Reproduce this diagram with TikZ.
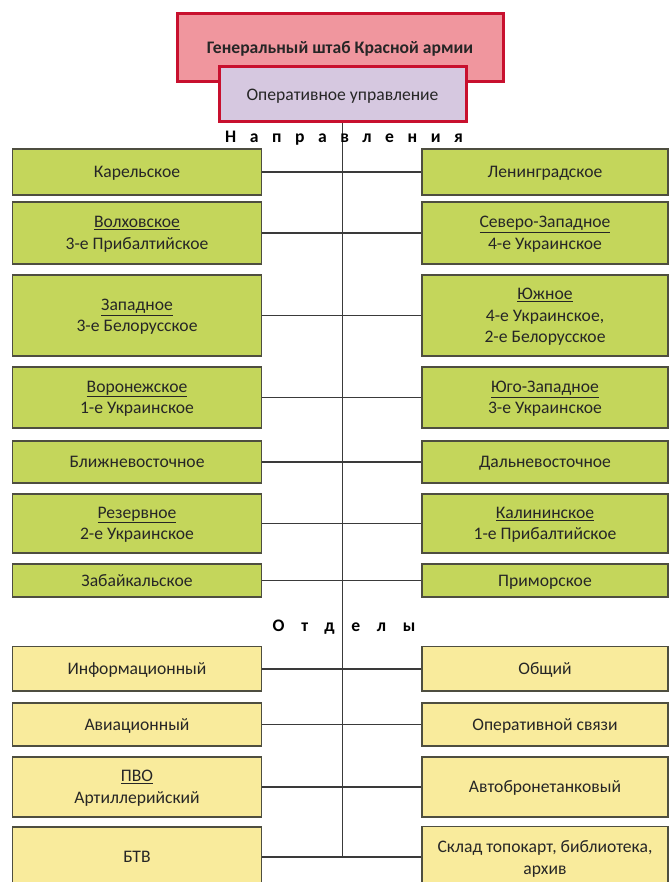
\documentclass[tikz,border=0pt]{standalone}
\usepackage{fontspec}
\setmainfont{Carlito}
\definecolor{gsred}{HTML}{C8102E}
\definecolor{gsfill}{HTML}{F0969E}
\definecolor{opfill}{HTML}{D6C8E0}
\definecolor{dirgreen}{HTML}{C4D65B}
\definecolor{deptyellow}{HTML}{F9EB9C}
\definecolor{boxline}{HTML}{4E4E40}
\definecolor{linkgray}{HTML}{3A3A3A}

\begin{document}
\begin{tikzpicture}[x=1pt, y=-1pt,
    every node/.style={font=\fontsize{17.6}{21.5}\selectfont, text=black!85, text depth=0pt},
    hq/.style={draw=gsred, line width=3pt, inner sep=0pt},
    dirbox/.style={draw=boxline, line width=1.8pt, fill=dirgreen, inner sep=0pt, align=center},
    deptbox/.style={draw=boxline, line width=1.8pt, fill=deptyellow, inner sep=0pt, align=center},
    lcol/.style={minimum width=249pt},
    rcol/.style={minimum width=246pt},
    hdr/.style={font=\fontsize{17.6}{21.5}\selectfont\bfseries\addfontfeature{LetterSpace=#1}, text=black},
    link/.style={draw=linkgray, line width=1.5pt}]
  \useasboundingbox (0, 0) rectangle (669, 882);

  \node[hq, fill=gsfill, minimum width=326pt, minimum height=68pt, font=\fontsize{17.6}{21.5}\selectfont\bfseries] (gs) at (340, 47.5) {Генеральный штаб Красной армии};
  \node[hq, fill=opfill, minimum width=247pt, minimum height=55pt] (op) at (342.5, 94.5) {Оперативное управление};

  \node[dirbox, lcol, minimum height=46pt] (l1) at (137, 172) {Карельское};
  \node[dirbox, lcol, minimum height=62pt] (l2) at (137, 233) {\underline{Волховское}\\3-е Прибалтийское};
  \node[dirbox, lcol, minimum height=81pt] (l3) at (137, 315.5) {\underline{Западное}\\3-е Белорусское};
  \node[dirbox, lcol, minimum height=61pt] (l4) at (137, 397.5) {\underline{Воронежское}\\1-е Украинское};
  \node[dirbox, lcol, minimum height=42pt] (l5) at (137, 462) {Ближневосточное};
  \node[dirbox, lcol, minimum height=59pt] (l6) at (137, 523.5) {\underline{Резервное}\\2-е Украинское};
  \node[dirbox, lcol, minimum height=33pt] (l7) at (137, 580.5) {Забайкальское};

  \node[dirbox, rcol, minimum height=46pt] (r1) at (545, 172) {Ленинградское};
  \node[dirbox, rcol, minimum height=62pt] (r2) at (545, 233) {\underline{Северо-Западное}\\4-е Украинское};
  \node[dirbox, rcol, minimum height=81pt] (r3) at (545, 315.5) {\underline{Южное}\\4-е Украинское,\\2-е Белорусское};
  \node[dirbox, rcol, minimum height=61pt] (r4) at (545, 397.5) {\underline{Юго-Западное}\\3-е Украинское};
  \node[dirbox, rcol, minimum height=42pt] (r5) at (545, 462) {Дальневосточное};
  \node[dirbox, rcol, minimum height=59pt] (r6) at (545, 523.5) {\underline{Калининское}\\1-е Прибалтийское};
  \node[dirbox, rcol, minimum height=33pt] (r7) at (545, 580.5) {Приморское};

  \node[deptbox, lcol, minimum height=44.5pt] (l8) at (137, 668.75) {Информационный};
  \node[deptbox, lcol, minimum height=43pt] (l9) at (137, 724.5) {Авиационный};
  \node[deptbox, lcol, minimum height=60pt] (l10) at (137, 787) {\underline{ПВО}\\Артиллерийский};
  \node[deptbox, lcol, minimum height=60pt] (l11) at (137, 857) {БТВ};

  \node[deptbox, rcol, minimum height=44.5pt] (r8) at (545, 668.75) {Общий};
  \node[deptbox, rcol, minimum height=43pt] (r9) at (545, 724.5) {Оперативной связи};
  \node[deptbox, rcol, minimum height=60pt] (r10) at (545, 787) {Автобронетанковый};
  \node[deptbox, rcol, minimum height=62pt] (r11) at (545, 857.5) {Склад топокарт, библиотека,\\архив};

  \draw[link] (op.south) -- (op.south |- l11.east);
  \draw[link] (l1.east) -- (r1.west);
  \draw[link] (l2.east) -- (r2.west);
  \draw[link] (l3.east) -- (r3.west);
  \draw[link] (l4.east) -- (r4.west);
  \draw[link] (l5.east) -- (r5.west);
  \draw[link] (l6.east) -- (r6.west);
  \draw[link] (l7.east) -- (r7.west);
  \draw[link] (l8.east) -- (r8.west);
  \draw[link] (l9.east) -- (r9.west);
  \draw[link] (l10.east) -- (r10.west);
  \draw[link] (l11.east) -- (l11.east -| r11.west);

  \node[hdr=77] (napr) at (344, 137) {Направления};
  \node[hdr=96] (otd) at (344, 626) {Отделы};
\end{tikzpicture}
\end{document}
